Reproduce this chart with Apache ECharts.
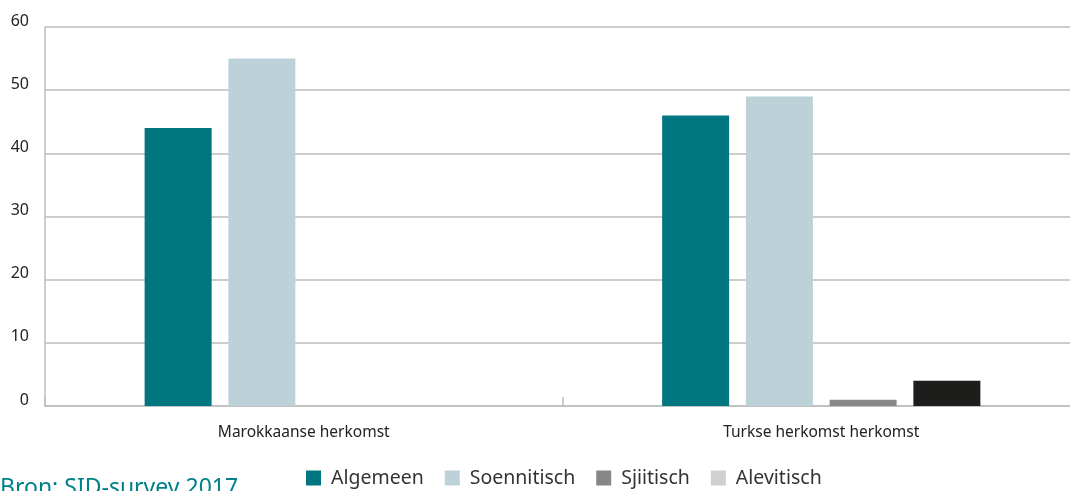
<!DOCTYPE html>
<html>
<head>
<meta charset="utf-8">
<script src="https://cdn.jsdelivr.net/npm/echarts@6/dist/echarts.min.js"></script>
<style>
  html, body { margin: 0; padding: 0; background: #fff; }
  #chart { width: 1070px; height: 491px; }
</style>
</head>
<body>
<div id="chart"></div>
<script>
const categories = ['Marokkaanse herkomst', 'Turkse herkomst herkomst']
const seriesNames = ['Algemeen', 'Soennitisch', 'Sjiitisch', 'Alevitisch']
const algemeen = [44, 46]
const soennitisch = [55, 49]
const sjiitisch = [null, 1]
const alevitisch = [null, 4]
const yTicks = [0, 10, 20, 30, 40, 50, 60]

const barColors = ['#007681', '#bcd1d8', '#878787', '#1d1d1b']
const legendColors = ['#007681', '#bcd1d8', '#878787', '#d0d0d0']
const values = [algemeen, soennitisch, sjiitisch, alevitisch]

let myChart = echarts.init(document.getElementById('chart'))

let option = {
  animation: false,
  textStyle: { fontFamily: 'Noto Sans' },
  grid: { left: 45, top: 27, bottom: 85, width: 1035, outerBoundsMode: 'none' },
  legend: {
    bottom: -2,
    left: 301,
    itemWidth: 15,
    itemHeight: 15,
    itemGap: 21,
    icon: 'rect',
    textStyle: { fontSize: 19.5, color: '#333', fontFamily: 'Noto Sans', padding: [0, 0, 0, 5] },
    data: seriesNames.map(function (n, i) {
      return { name: n, itemStyle: { color: legendColors[i] } }
    })
  },
  xAxis: {
    type: 'category',
    data: categories,
    axisLine: { lineStyle: { color: '#bdbdbd', width: 1.5 } },
    axisTick: { show: true, inside: true, length: 9, lineStyle: { color: '#bdbdbd', width: 1.5 } },
    axisLabel: { color: '#222', fontSize: 15.5, margin: 19 }
  },
  yAxis: {
    type: 'value',
    min: yTicks[0],
    max: yTicks[yTicks.length - 1],
    interval: 10,
    axisLine: { show: true, lineStyle: { color: '#bdbdbd', width: 1.5 } },
    axisTick: { show: false },
    splitLine: { lineStyle: { color: '#bdbdbd', width: 1.5 } },
    axisLabel: {
      color: '#222', fontSize: 16, margin: 16, align: 'right',
      verticalAlign: 'bottom', lineHeight: 12
    }
  },
  series: seriesNames.map(function (n, i) {
    return {
      name: n,
      type: 'bar',
      data: values[i],
      barWidth: 67,
      barGap: '25%',
      itemStyle: { color: barColors[i] }
    }
  }),
  graphic: [{
    type: 'text',
    left: 0,
    top: 477,
    style: { text: 'Bron: SID-survey 2017', fill: '#00818a', fontSize: 23, fontFamily: 'Noto Sans' }
  }]
}
myChart.setOption(option)
</script>
</body>
</html>
